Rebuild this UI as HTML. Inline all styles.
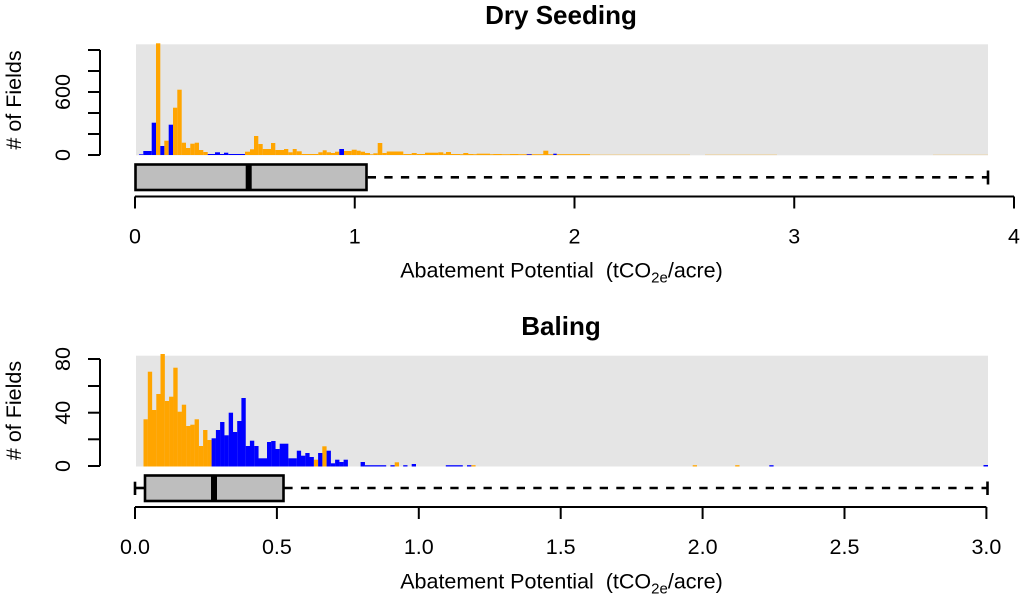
<!DOCTYPE html>
<html>
<head>
<meta charset="utf-8">
<style>
html,body{margin:0;padding:0;background:#fff;}
svg{display:block;}
text{font-family:"Liberation Sans",Arial,sans-serif;fill:#000;}
</style>
</head>
<body>
<svg width="1023" height="601" viewBox="0 0 1023 601" xmlns="http://www.w3.org/2000/svg">
<rect x="0" y="0" width="1023" height="601" fill="#fff"/>

<text x="561" y="24" font-size="26" font-weight="bold" text-anchor="middle">Dry Seeding</text>
<rect x="136" y="44.3" width="852" height="111" fill="#E5E5E5"/>

<g fill="#FFA500">
<rect x="460" y="154.2" width="130" height="0.9"/>
<rect x="590" y="154.3" width="100" height="0.8" opacity="0.35"/>
<rect x="705" y="154.3" width="72" height="0.8" opacity="0.3"/>
<rect x="933" y="154.3" width="55" height="0.8" opacity="0.2"/>
<rect x="156" y="43.3" width="4.3" height="111.7"/>
<rect x="164.3" y="140.7" width="4.4" height="14.3"/>
<rect x="173" y="107.7" width="4.3" height="47.3"/>
<rect x="177.3" y="89.7" width="4.4" height="65.3"/>
<rect x="181.7" y="142.7" width="4.3" height="12.3"/>
<rect x="186" y="148" width="4.3" height="7"/>
<rect x="190.3" y="143.7" width="4.4" height="11.3"/>
<rect x="194.7" y="142.7" width="4.3" height="12.3"/>
<rect x="199" y="150" width="4.3" height="5"/>
<rect x="203.3" y="152" width="4.4" height="3"/>
<rect x="245" y="151.7" width="5" height="3.3"/>
<rect x="250" y="149.3" width="4" height="5.7"/>
<rect x="254" y="136" width="4.3" height="19"/>
<rect x="258.3" y="144" width="4.4" height="11"/>
<rect x="262.7" y="149" width="8.3" height="6"/>
<rect x="271" y="143" width="4.3" height="12"/>
<rect x="275.3" y="150" width="8.7" height="5"/>
<rect x="284" y="149" width="4.3" height="6"/>
<rect x="288.3" y="152.3" width="4.4" height="2.7"/>
<rect x="292.7" y="149" width="4" height="6"/>
<rect x="296.7" y="151.3" width="5" height="3.7"/>
<rect x="301.7" y="154" width="16.6" height="1"/>
<rect x="318.3" y="152.3" width="4.4" height="2.7"/>
<rect x="322.7" y="150.3" width="4" height="4.7"/>
<rect x="326.7" y="152.3" width="4.3" height="2.7"/>
<rect x="331" y="153" width="4" height="2"/>
<rect x="335" y="151.7" width="4.3" height="3.3"/>
<rect x="344" y="151" width="7.7" height="4"/>
<rect x="351.7" y="149.7" width="5" height="5.3"/>
<rect x="356.7" y="150.7" width="4" height="4.3"/>
<rect x="360.7" y="151.7" width="4.3" height="3.3"/>
<rect x="365" y="153" width="5" height="2"/>
<rect x="370" y="154.3" width="3.3" height="0.7"/>
<rect x="373.3" y="153.3" width="4.4" height="1.7"/>
<rect x="377.7" y="143" width="4.6" height="12"/>
<rect x="382.3" y="153" width="4.4" height="2"/>
<rect x="386.7" y="151.5" width="16.6" height="3.5"/>
<rect x="403.3" y="154" width="8.4" height="1"/>
<rect x="411.7" y="153" width="5" height="2"/>
<rect x="416.7" y="154" width="8.3" height="1"/>
<rect x="425" y="152.7" width="13.3" height="2.3"/>
<rect x="438.3" y="152.3" width="5" height="2.7"/>
<rect x="443.3" y="153.7" width="2.7" height="1.3"/>
<rect x="446" y="152" width="5" height="3"/>
<rect x="451" y="154" width="9" height="1"/>
<rect x="463.3" y="153" width="5" height="2"/>
<rect x="468.3" y="154" width="5" height="1"/>
<rect x="476.7" y="153.7" width="13.3" height="1.3"/>
<rect x="493.3" y="154" width="8.4" height="1"/>
<rect x="510" y="154" width="8.3" height="1"/>
<rect x="543.3" y="150.7" width="5" height="4.3"/>
</g>
<g fill="#0000FF">
<rect x="139" y="154.3" width="4.3" height="0.7"/>
<rect x="143.3" y="151" width="8.4" height="4"/>
<rect x="151.7" y="122.7" width="4.3" height="32.3"/>
<rect x="160.3" y="146" width="4" height="9"/>
<rect x="168.7" y="124.7" width="4.3" height="30.3"/>
<rect x="207.7" y="154" width="7.3" height="1"/>
<rect x="215" y="152.3" width="5" height="2.7"/>
<rect x="220" y="154" width="4" height="1"/>
<rect x="224" y="152.7" width="4.3" height="2.3"/>
<rect x="228.3" y="154" width="16.7" height="1"/>
<rect x="339.3" y="149" width="4.7" height="6"/>
<rect x="526.7" y="154.3" width="5" height="0.7"/>
<rect x="553.3" y="153.7" width="3.4" height="1.3"/>
</g>

<line x1="367.7" y1="177.3" x2="988" y2="177.3" stroke="#000" stroke-width="2.6" stroke-dasharray="8.3 8.3"/>
<line x1="988" y1="170.5" x2="988" y2="184.5" stroke="#000" stroke-width="2.6"/>
<rect x="135.5" y="164.5" width="231" height="25.5" fill="#BEBEBE" stroke="#000" stroke-width="2.6"/>
<line x1="248.7" y1="164.5" x2="248.7" y2="190" stroke="#000" stroke-width="6"/>

<g stroke="#000" stroke-width="2" fill="none">
<line x1="135" y1="196.5" x2="1014" y2="196.5"/>
<line x1="135" y1="196.5" x2="135" y2="208.5"/>
<line x1="354.75" y1="196.5" x2="354.75" y2="208.5"/>
<line x1="574.5" y1="196.5" x2="574.5" y2="208.5"/>
<line x1="794.25" y1="196.5" x2="794.25" y2="208.5"/>
<line x1="1014" y1="196.5" x2="1014" y2="208.5"/>
</g>
<g font-size="21.5" text-anchor="middle">
<text x="135" y="243.5">0</text>
<text x="354.75" y="243.5">1</text>
<text x="574.5" y="243.5">2</text>
<text x="794.25" y="243.5">3</text>
<text x="1014" y="243.5">4</text>
</g>
<text x="561.5" y="277.5" font-size="21.5" text-anchor="middle">Abatement Potential&#160; (tCO<tspan font-size="15" dy="5">2e</tspan><tspan dy="-5">/acre)</tspan></text>

<g stroke="#000" stroke-width="2" fill="none">
<line x1="100" y1="50" x2="100" y2="155"/>
<line x1="88" y1="155" x2="100" y2="155"/>
<line x1="88" y1="134" x2="100" y2="134"/>
<line x1="88" y1="113" x2="100" y2="113"/>
<line x1="88" y1="92" x2="100" y2="92"/>
<line x1="88" y1="71" x2="100" y2="71"/>
<line x1="88" y1="50" x2="100" y2="50"/>
</g>
<g font-size="21.5" text-anchor="middle">
<text x="70" y="155" transform="rotate(-90 70 155)">0</text>
<text x="70" y="92" transform="rotate(-90 70 92)">600</text>
<text x="21" y="100" transform="rotate(-90 21 100)"># of Fields</text>
</g>

<text x="561" y="335" font-size="26" font-weight="bold" text-anchor="middle">Baling</text>
<rect x="136" y="355.7" width="852" height="110.8" fill="#E5E5E5"/>

<g fill="#FFA500">
<rect x="143.5" y="419.3" width="4.35" height="47.2"/>
<rect x="147.8" y="371.7" width="4.35" height="94.8"/>
<rect x="152.0" y="410" width="4.35" height="56.5"/>
<rect x="156.3" y="394" width="4.35" height="72.5"/>
<rect x="160.5" y="354" width="4.35" height="112.5"/>
<rect x="164.8" y="401" width="4.35" height="65.5"/>
<rect x="169.1" y="396.7" width="4.35" height="69.8"/>
<rect x="173.3" y="367.7" width="4.35" height="98.8"/>
<rect x="177.6" y="411.7" width="4.35" height="54.8"/>
<rect x="181.8" y="404.7" width="4.35" height="61.8"/>
<rect x="186.1" y="426" width="4.35" height="40.5"/>
<rect x="190.3" y="424.7" width="4.35" height="41.8"/>
<rect x="194.6" y="419.3" width="4.35" height="47.2"/>
<rect x="198.9" y="446" width="4.35" height="20.5"/>
<rect x="203.1" y="430" width="4.35" height="36.5"/>
<rect x="207.4" y="440" width="4.25" height="26.5"/>
<rect x="313.8" y="459.7" width="4.3" height="6.8"/>
<rect x="322.3" y="446.3" width="4.3" height="20.2"/>
<rect x="394.7" y="462.3" width="4.3" height="4.2"/>
<rect x="471.3" y="465.2" width="4.3" height="1.3"/>
<rect x="692.7" y="465.2" width="4.3" height="1.3"/>
<rect x="735.2" y="465.2" width="4.3" height="1.3"/>
</g>
<g fill="#0000FF">
<rect x="211.6" y="438.3" width="4.35" height="28.2"/>
<rect x="215.9" y="430" width="4.35" height="36.5"/>
<rect x="220.1" y="422" width="4.35" height="44.5"/>
<rect x="224.4" y="435.3" width="4.35" height="31.2"/>
<rect x="228.7" y="412.7" width="4.35" height="53.8"/>
<rect x="232.9" y="432" width="4.35" height="34.5"/>
<rect x="237.2" y="421" width="4.35" height="45.5"/>
<rect x="241.4" y="398" width="4.35" height="68.5"/>
<rect x="245.7" y="446" width="4.35" height="20.5"/>
<rect x="249.9" y="440.7" width="4.35" height="25.8"/>
<rect x="254.2" y="446" width="4.35" height="20.5"/>
<rect x="258.5" y="458.3" width="8.6" height="8.2"/>
<rect x="267.0" y="442" width="4.3" height="24.5"/>
<rect x="271.2" y="441" width="4.35" height="25.5"/>
<rect x="275.5" y="449" width="4.3" height="17.5"/>
<rect x="279.7" y="443.7" width="8.65" height="22.8"/>
<rect x="288.3" y="458.3" width="8.55" height="8.2"/>
<rect x="296.8" y="450.7" width="4.3" height="15.8"/>
<rect x="301.0" y="455.7" width="4.35" height="10.8"/>
<rect x="305.3" y="453" width="4.3" height="13.5"/>
<rect x="309.5" y="457" width="4.35" height="9.5"/>
<rect x="318.1" y="453" width="4.25" height="13.5"/>
<rect x="326.6" y="450.7" width="4.3" height="15.8"/>
<rect x="330.8" y="463.3" width="4.35" height="3.2"/>
<rect x="335.1" y="459.7" width="4.3" height="6.8"/>
<rect x="339.3" y="462" width="4.35" height="4.5"/>
<rect x="343.6" y="459.7" width="4.3" height="6.8"/>
<rect x="360.6" y="462" width="4.35" height="4.5"/>
<rect x="364.9" y="465.2" width="21.3" height="1.3"/>
<rect x="390.4" y="465.2" width="4.3" height="1.3"/>
<rect x="403.2" y="465.2" width="4.3" height="1.3"/>
<rect x="411.7" y="464" width="4.3" height="2.5"/>
<rect x="445.8" y="465.2" width="17" height="1.3"/>
<rect x="467.0" y="465.2" width="4.3" height="1.3"/>
<rect x="769.3" y="465.2" width="4.3" height="1.3"/>
<rect x="983.5" y="465" width="4.5" height="1.5"/>
</g>

<line x1="135" y1="488" x2="145" y2="488" stroke="#000" stroke-width="2.6"/>
<line x1="135" y1="481.7" x2="135" y2="495" stroke="#000" stroke-width="2.6"/>
<line x1="284.3" y1="488" x2="987.5" y2="488" stroke="#000" stroke-width="2.6" stroke-dasharray="8.3 8.3"/>
<line x1="987.5" y1="481.5" x2="987.5" y2="495" stroke="#000" stroke-width="2.6"/>
<rect x="145" y="475.5" width="138.5" height="25.5" fill="#BEBEBE" stroke="#000" stroke-width="2.6"/>
<line x1="214" y1="475.5" x2="214" y2="501" stroke="#000" stroke-width="6"/>

<g stroke="#000" stroke-width="2" fill="none">
<line x1="135" y1="507" x2="986.4" y2="507"/>
<line x1="135" y1="507" x2="135" y2="519"/>
<line x1="276.9" y1="507" x2="276.9" y2="519"/>
<line x1="418.8" y1="507" x2="418.8" y2="519"/>
<line x1="560.7" y1="507" x2="560.7" y2="519"/>
<line x1="702.6" y1="507" x2="702.6" y2="519"/>
<line x1="844.5" y1="507" x2="844.5" y2="519"/>
<line x1="986.4" y1="507" x2="986.4" y2="519"/>
</g>
<g font-size="21.5" text-anchor="middle">
<text x="135" y="554">0.0</text>
<text x="276.9" y="554">0.5</text>
<text x="418.8" y="554">1.0</text>
<text x="560.7" y="554">1.5</text>
<text x="702.6" y="554">2.0</text>
<text x="844.5" y="554">2.5</text>
<text x="986.4" y="554">3.0</text>
</g>
<text x="561.5" y="588.5" font-size="21.5" text-anchor="middle">Abatement Potential&#160; (tCO<tspan font-size="15" dy="5">2e</tspan><tspan dy="-5">/acre)</tspan></text>

<g stroke="#000" stroke-width="2" fill="none">
<line x1="100" y1="359" x2="100" y2="466"/>
<line x1="88" y1="466" x2="100" y2="466"/>
<line x1="88" y1="439.3" x2="100" y2="439.3"/>
<line x1="88" y1="412.7" x2="100" y2="412.7"/>
<line x1="88" y1="386" x2="100" y2="386"/>
<line x1="88" y1="359" x2="100" y2="359"/>
</g>
<g font-size="21.5" text-anchor="middle">
<text x="70" y="466" transform="rotate(-90 70 466)">0</text>
<text x="70" y="412.7" transform="rotate(-90 70 412.7)">40</text>
<text x="70" y="359" transform="rotate(-90 70 359)">80</text>
<text x="21" y="410.5" transform="rotate(-90 21 410.5)"># of Fields</text>
</g>
</svg>
</body>
</html>
